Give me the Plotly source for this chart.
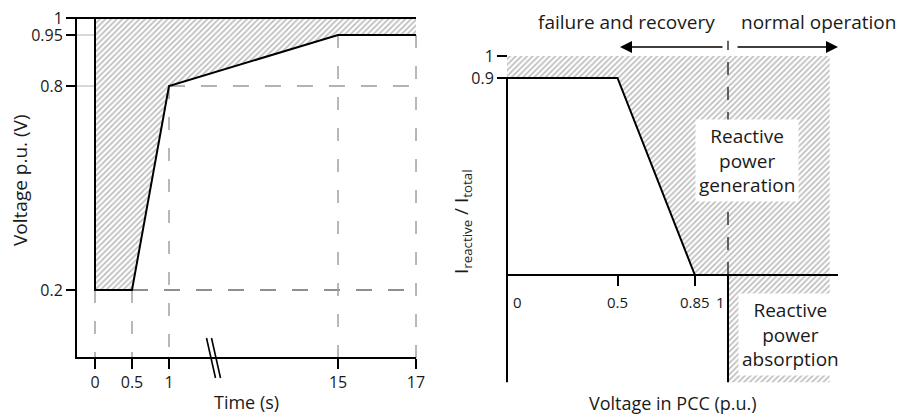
import plotly.graph_objects as go

W, H = 899, 417
FONT = "Open Sans"
TXT = "#1a1a1a"

# ---------------- data: left panel (voltage ride-through curve) ----------------
time_s = [0, 0, 0.5, 1, 15, 17]
voltage_pu = [1.0, 0.2, 0.2, 0.8, 0.95, 0.95]
left_xticks = [0, 0.5, 1, 15, 17]
left_xticktext = ["0", "0.5", "1", "15", "17"]
left_yticks = [0.2, 0.8, 0.95, 1]
left_yticktext = ["0.2", "0.8", "0.95", "1"]

# ---------------- data: right panel (reactive current requirement) -------------
v_pcc = [0, 0.5, 0.85]
i_ratio = [0.9, 0.9, 0]
right_xticks = [0.5, 0.85]
right_xlabels = ["0", "0.5", "0.85", "1"]
right_xlabel_vals = [0, 0.5, 0.85, 1]
right_yticks = [0.9, 1]
right_yticktext = ["0.9", "1"]
v_nominal = 1.0
hatch_right_edge = 1.46
absorb_bottom = -0.49

# ---------------- pixel geometry ----------------
L_X0, L_PXU = 95, 74.0      # pixel of t=0, px per display unit
L_Y0, L_PYU = 358, 340.0    # pixel of v=0, px per unit
R_X0, R_PXU = 507, 221.0
R_Y0, R_PYU = 275, 219.0

SEG2_START, SEG2_SCALE = 3.284, 0.527  # broken time axis: 15..17 s segment


def tx(t):
    """Broken time axis: 0..1 s linear, then 15..17 s on a compressed segment."""
    return t if t <= 1 else SEG2_START + (t - 15) * SEG2_SCALE


def dom_x(x0px, pxu, r):
    return [(x0px + r[0] * pxu) / W, (x0px + r[1] * pxu) / W]


def dom_y(y0px, pyu, r):
    return [1 - (y0px - r[0] * pyu) / H, 1 - (y0px - r[1] * pyu) / H]


def px(x):
    return x / W


def py(y):
    return 1 - y / H


L_XR = [-0.5, 4.5]
L_YR = [-0.12, 1.04]
R_XR = [-0.1, 1.56]
R_YR = [-0.56, 1.22]

l_axis_x = (76 - L_X0) / L_PXU  # display x of the left y axis
t_end = tx(time_s[-1])

HATCH = dict(shape="/", size=4, solidity=0.42, fgcolor="#7a7a7a", bgcolor="white")

fig = go.Figure()

# ---------- left panel ----------
# hatched region between v=1 and the curve
hx = [tx(time_s[0]), t_end] + [tx(t) for t in reversed(time_s[1:])]
hy = [1, 1] + list(reversed(voltage_pu[1:]))
fig.add_trace(go.Scatter(x=hx, y=hy, fill="toself", mode="lines", line=dict(width=0),
                         fillcolor="rgba(0,0,0,0)", fillpattern=HATCH,
                         xaxis="x", yaxis="y", hoverinfo="skip"))

# faint guide lines from the y axis to t=0 at 0.95 and 0.8
for lev in [voltage_pu[4], voltage_pu[3]]:
    fig.add_trace(go.Scatter(x=[l_axis_x, tx(0)], y=[lev, lev], mode="lines",
                             line=dict(color="#b0b0b0", width=1), xaxis="x", yaxis="y", hoverinfo="skip"))

# dashed guide lines (horizontal)
fig.add_trace(go.Scatter(x=[tx(time_s[3]), t_end], y=[voltage_pu[3]] * 2, mode="lines",
                         line=dict(color="#9a9a9a", width=1.5, dash="16px,16px"),
                         xaxis="x", yaxis="y", hoverinfo="skip"))
fig.add_trace(go.Scatter(x=[tx(time_s[2]), t_end], y=[voltage_pu[2]] * 2, mode="lines",
                         line=dict(color="#6a6a6a", width=1.5, dash="16px,16px"),
                         xaxis="x", yaxis="y", hoverinfo="skip"))
# vertical, from the curve down to the time axis
guide_levels = [voltage_pu[1], voltage_pu[2], voltage_pu[3], voltage_pu[4], voltage_pu[5]]
for t, lev in zip(left_xticks, guide_levels):
    fig.add_trace(go.Scatter(x=[tx(t), tx(t)], y=[lev, 0], mode="lines",
                             line=dict(color="#a0a0a0", width=1.5, dash="13px,18px"),
                             xaxis="x", yaxis="y", hoverinfo="skip"))

# the curve
fig.add_trace(go.Scatter(x=[tx(t) for t in time_s], y=voltage_pu, mode="lines",
                         line=dict(color="black", width=2), xaxis="x", yaxis="y", hoverinfo="skip"))
# top line at 1 p.u.
fig.add_trace(go.Scatter(x=[l_axis_x, t_end], y=[1, 1], mode="lines",
                         line=dict(color="black", width=2), xaxis="x", yaxis="y", hoverinfo="skip"))
# axes lines
fig.add_trace(go.Scatter(x=[l_axis_x, l_axis_x, t_end], y=[1, 0, 0], mode="lines",
                         line=dict(color="black", width=2), xaxis="x", yaxis="y", hoverinfo="skip"))
# axis break marks
bx = (211 - L_X0) / L_PXU
bdx = 5 / L_PXU
bh = 20 / L_PYU
sl = 4.5 / L_PXU
for k in range(2):
    fig.add_trace(go.Scatter(x=[bx + k * bdx - sl, bx + k * bdx + sl], y=[bh, -bh], mode="lines",
                             line=dict(color="black", width=1.6), xaxis="x", yaxis="y", hoverinfo="skip"))

# ---------- right panel ----------
rhx = [0, hatch_right_edge, hatch_right_edge, v_nominal, v_nominal] + list(reversed(v_pcc))
rhy = [1, 1, absorb_bottom, absorb_bottom, 0] + list(reversed(i_ratio))
fig.add_trace(go.Scatter(x=rhx, y=rhy, fill="toself", mode="lines", line=dict(width=0),
                         fillcolor="rgba(0,0,0,0)", fillpattern=HATCH,
                         xaxis="x2", yaxis="y2", hoverinfo="skip"))
# dashed nominal voltage line
fig.add_trace(go.Scatter(x=[v_nominal, v_nominal], y=[0, 1.07], mode="lines",
                         line=dict(color="#333333", width=1.5, dash="13px,12px"),
                         xaxis="x2", yaxis="y2", hoverinfo="skip"))
# curve
fig.add_trace(go.Scatter(x=v_pcc, y=i_ratio, mode="lines", line=dict(color="black", width=2),
                         xaxis="x2", yaxis="y2", hoverinfo="skip"))
# axes
r_xend = (838 - R_X0) / R_PXU
fig.add_trace(go.Scatter(x=[0, r_xend], y=[0, 0], mode="lines", line=dict(color="black", width=2),
                         xaxis="x2", yaxis="y2", hoverinfo="skip"))
fig.add_trace(go.Scatter(x=[0, 0], y=[0.9, absorb_bottom], mode="lines", line=dict(color="black", width=2),
                         xaxis="x2", yaxis="y2", hoverinfo="skip"))
fig.add_trace(go.Scatter(x=[v_nominal, v_nominal], y=[0, absorb_bottom], mode="lines",
                         line=dict(color="black", width=2), xaxis="x2", yaxis="y2", hoverinfo="skip"))

axis_common = dict(showgrid=False, zeroline=False, showline=False, ticks="outside",
                   ticklen=10, tickwidth=2, tickcolor="black", fixedrange=True,
                   tickfont=dict(family=FONT, size=16, color=TXT))

fig.update_layout(
    width=W, height=H, margin=dict(l=0, r=0, t=0, b=0),
    paper_bgcolor="white", plot_bgcolor="rgba(0,0,0,0)", showlegend=False,
    font=dict(family=FONT, color=TXT),
    xaxis=dict(axis_common, domain=dom_x(L_X0, L_PXU, L_XR), range=L_XR, anchor="free",
               position=1 - L_Y0 / H, tickvals=[tx(t) for t in left_xticks], ticktext=left_xticktext),
    yaxis=dict(axis_common, domain=dom_y(L_Y0, L_PYU, L_YR), range=L_YR, anchor="free",
               position=76 / W, tickvals=left_yticks, ticktext=left_yticktext),
    xaxis2=dict(axis_common, domain=dom_x(R_X0, R_PXU, R_XR), range=R_XR, anchor="free",
                position=1 - R_Y0 / H, tickvals=right_xticks, showticklabels=False),
    yaxis2=dict(axis_common, domain=dom_y(R_Y0, R_PYU, R_YR), range=R_YR, anchor="free",
                position=R_X0 / W, tickvals=right_yticks, ticktext=right_yticktext),
)

ann = []
# axis titles (paper coordinates)
ann.append(dict(x=px(246), y=py(402), xref="paper", yref="paper", text="Time (s)",
                showarrow=False, font=dict(size=18)))
ann.append(dict(x=px(20), y=py(180), xref="paper", yref="paper", text="Voltage p.u. (V)",
                showarrow=False, textangle=-90, font=dict(size=19)))
ann.append(dict(x=px(673), y=py(403), xref="paper", yref="paper",
                text="Voltage in PCC (p.u.)", showarrow=False, font=dict(size=18)))
ann.append(dict(x=px(462), y=py(222), xref="paper", yref="paper",
                text="I<sub>reactive</sub> / I<sub>total</sub>", showarrow=False, textangle=-90,
                font=dict(size=19)))
# right tick labels
for v, lab in zip(right_xlabel_vals, right_xlabels):
    if v == 0:
        xa, xx = "left", v + 4 / R_PXU
    elif v == v_nominal:
        xa, xx = "right", v - 1 / R_PXU
    else:
        xa, xx = "center", v
    ann.append(dict(x=xx, y=(R_Y0 - 302) / R_PYU, xref="x2", yref="y2", text=lab, xanchor=xa,
                    showarrow=False, font=dict(size=15)))
# region labels
ann.append(dict(x=(747 - R_X0) / R_PXU, y=(R_Y0 - 161) / R_PYU, xref="x2", yref="y2",
                text="Reactive<br>power<br>generation", showarrow=False, bgcolor="white",
                borderpad=3, font=dict(size=19)))
ann.append(dict(x=(790 - R_X0) / R_PXU, y=(R_Y0 - 334) / R_PYU, xref="x2", yref="y2",
                text="Reactive<br>power<br>absorption", showarrow=False, bgcolor="white",
                borderpad=3, font=dict(size=19)))
# operation mode labels and arrows
ann.append(dict(x=(627 - R_X0) / R_PXU, y=(R_Y0 - 22) / R_PYU, xref="x2", yref="y2",
                text="failure and recovery", showarrow=False, font=dict(size=19)))
ann.append(dict(x=(818 - R_X0) / R_PXU, y=(R_Y0 - 22) / R_PYU, xref="x2", yref="y2",
                text="normal operation", showarrow=False, font=dict(size=19)))
arr_y = (R_Y0 - 47) / R_PYU
ann.append(dict(x=(620 - R_X0) / R_PXU, y=arr_y, ax=(724 - R_X0) / R_PXU, ay=arr_y,
                xref="x2", yref="y2", axref="x2", ayref="y2", text="", showarrow=True,
                arrowhead=2, arrowsize=1.5, arrowwidth=1.6, arrowcolor="black"))
ann.append(dict(x=(838 - R_X0) / R_PXU, y=arr_y, ax=(736 - R_X0) / R_PXU, ay=arr_y,
                xref="x2", yref="y2", axref="x2", ayref="y2", text="", showarrow=True,
                arrowhead=2, arrowsize=1.5, arrowwidth=1.6, arrowcolor="black"))

for a in ann:
    a.setdefault("xanchor", "center")
    a.setdefault("yanchor", "middle")
    a.setdefault("font", {})
    a["font"].setdefault("family", FONT)
    a["font"].setdefault("color", TXT)
fig.update_layout(annotations=ann)

fig.write_html("out.html")
